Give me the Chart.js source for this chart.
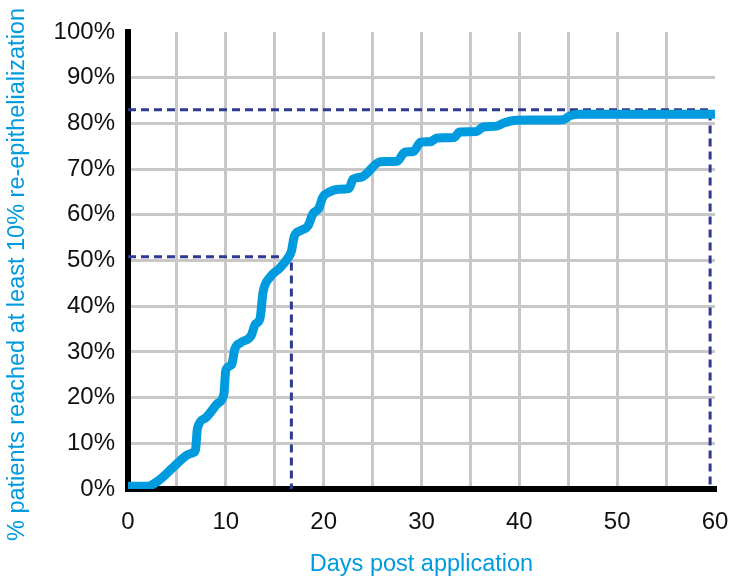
<!DOCTYPE html>
<html>
<head>
<meta charset="utf-8">
<script src="https://cdn.jsdelivr.net/npm/chart.js@4/dist/chart.umd.min.js"></script>
<style>
  html, body { margin: 0; padding: 0; background: #ffffff; }
  #wrap { width: 729px; height: 579px; position: relative; }
</style>
</head>
<body>
<div id="wrap"><canvas id="c" width="729" height="579"></canvas></div>
<script>
// Cumulative curve
const days = [0, 2.0, 3.1, 4.5, 6.0, 6.7, 6.9, 7.1, 7.9, 9.2, 9.8, 10.0, 10.6, 10.9, 11.5, 12.6, 13.0, 13.5, 13.8, 14.5, 15.5, 16.2, 16.7, 17.0, 17.6, 18.4, 18.9, 19.5, 19.9, 20.5, 21.5, 22.6, 23.0, 23.9, 25.8, 27.5, 28.3, 29.2, 29.9, 30.9, 31.6, 33.3, 33.9, 35.6, 36.3, 37.7, 38.4, 39.7, 44.5, 45.2, 46.2, 60];
const percentReached = [0.6, 0.6, 1.8, 4.5, 7.4, 8.0, 8.6, 13.3, 15.5, 18.8, 20.8, 26.0, 27.2, 30.5, 32.0, 33.6, 36.0, 37.4, 43.0, 46.3, 48.3, 50.1, 52.0, 55.3, 56.5, 57.6, 60.2, 61.4, 63.8, 64.9, 65.6, 65.8, 67.8, 68.3, 71.6, 71.7, 73.7, 73.9, 75.9, 76.0, 76.8, 76.9, 78.1, 78.2, 79.2, 79.4, 80.1, 80.7, 80.8, 81.7, 82.0, 82.0];

// Reference (dashed) guide lines
const medianDay = 16.7;
const medianPct = 50.8;
const plateauDay = 59.5;
const plateauPct = 83;

// Axis ticks
const xTickLabels = [0, 10, 20, 30, 40, 50, 60];
const yTickLabels = ['0%', '10%', '20%', '30%', '40%', '50%', '60%', '70%', '80%', '90%', '100%'];

const xTitle = 'Days post application';
const yTitle = '% patients reached at least 10% re-epithelialization';

const curvePoints = days.map((d, i) => ({ x: d, y: percentReached[i] }));
const medianPoints = [{ x: 0, y: medianPct }, { x: medianDay, y: medianPct }, { x: medianDay, y: 0 }];
const plateauPoints = [{ x: 0, y: plateauPct }, { x: plateauDay, y: plateauPct }, { x: plateauDay, y: 0 }];

const BLUE = '#009bde';
const NAVY = '#2e3a8f';
const GRID = '#c8c8c8';
const FONT = '"Liberation Sans", Arial, Helvetica, sans-serif';

// Vertical axis title, drawn as real text beside the y axis
const yTitlePlugin = {
  id: 'yTitle',
  afterDraw(chart) {
    const ctx = chart.ctx;
    const area = chart.chartArea;
    ctx.save();
    ctx.translate(18, (area.top + area.bottom) / 2 + 14);
    ctx.rotate(-Math.PI / 2);
    ctx.fillStyle = BLUE;
    ctx.font = '23.5px ' + FONT;
    ctx.textAlign = 'center';
    ctx.textBaseline = 'middle';
    ctx.fillText(yTitle, 0, 0);
    ctx.restore();
  }
};

new Chart(document.getElementById('c'), {
  type: 'line',
  data: {
    datasets: [
      {
        data: curvePoints,
        borderColor: BLUE,
        borderWidth: 9,
        pointRadius: 0,
        fill: false,
        cubicInterpolationMode: 'monotone',
        borderCapStyle: 'butt',
        borderJoinStyle: 'round'
      },
      {
        data: medianPoints,
        borderColor: NAVY,
        borderWidth: 3,
        borderDash: [8, 5],
        pointRadius: 0,
        tension: 0,
        fill: false
      },
      {
        data: plateauPoints,
        borderColor: NAVY,
        borderWidth: 3,
        borderDash: [8, 5],
        pointRadius: 0,
        tension: 0,
        fill: false
      }
    ]
  },
  plugins: [yTitlePlugin],
  options: {
    responsive: false,
    animation: false,
    devicePixelRatio: 1,
    layout: { padding: { left: 0, right: 14, top: 32, bottom: 0 } },
    plugins: { legend: { display: false }, tooltip: { enabled: false } },
    scales: {
      x: {
        type: 'linear',
        min: 0,
        max: 60,
        afterBuildTicks: (s) => {
          const t = [];
          for (let v = 0; v <= 60; v += 5) t.push({ value: v });
          s.ticks = t;
        },
        afterFit: (s) => { s.height = 90; s.paddingLeft = 0; s.paddingRight = 0; },
        ticks: {
          autoSkip: false,
          maxRotation: 0,
          padding: 19,
          color: '#111111',
          font: { family: FONT, size: 24 },
          callback: (v) => (xTickLabels.includes(v) ? String(v) : '')
        },
        grid: {
          drawTicks: false,
          lineWidth: 3,
          color: (ctx) => (ctx.tick && (ctx.tick.value === 0 || ctx.tick.value === 60) ? 'rgba(0,0,0,0)' : GRID)
        },
        border: { display: true, color: '#000000', width: 6 },
        title: {
          display: true,
          text: xTitle,
          color: BLUE,
          font: { family: FONT, size: 23.5 },
          padding: { top: 0, bottom: 0 }
        }
      },
      y: {
        type: 'linear',
        min: 0,
        max: 100,
        afterBuildTicks: (s) => {
          s.ticks = yTickLabels.map((_, i) => ({ value: i * 10 }));
        },
        afterFit: (s) => { s.width = 128; s.paddingTop = 0; s.paddingBottom = 0; },
        ticks: {
          autoSkip: false,
          padding: 13,
          color: '#111111',
          font: { family: FONT, size: 24 },
          callback: (v) => yTickLabels[Math.round(v / 10)]
        },
        grid: {
          drawTicks: false,
          lineWidth: 3,
          color: (ctx) => (ctx.tick && (ctx.tick.value === 0 || ctx.tick.value === 100) ? 'rgba(0,0,0,0)' : GRID)
        },
        border: { display: true, color: '#000000', width: 6 },
        title: { display: false }
      }
    }
  }
});
</script>
</body>
</html>
